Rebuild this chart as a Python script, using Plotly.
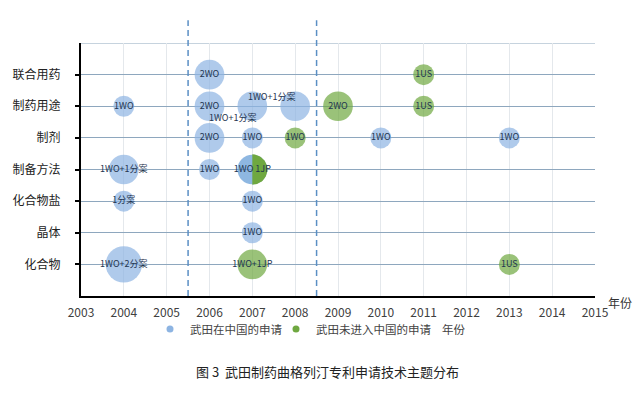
import numpy as np
import plotly.graph_objects as go

# ---------------- data ----------------
categories = ['化合物', '晶体', '化合物盐', '制备方法', '制剂', '制药用途', '联合用药']
years = list(range(2003, 2016))

# 武田在中国的申请
cn_cat = ['联合用药', '制药用途', '制药用途', '制药用途', '制药用途', '制剂', '制剂', '制剂', '制剂',
          '制备方法', '制备方法', '化合物盐', '化合物盐', '晶体', '化合物']
cn_year = [2006, 2004, 2006, 2007, 2008, 2006, 2007, 2010, 2013, 2004, 2006, 2004, 2007, 2007, 2004]
cn_count = [2, 1, 2, 2, 2, 2, 1, 1, 1, 2, 1, 1, 1, 1, 3]
cn_label = ['2WO', '1WO', '2WO', '1WO+1分案', '1WO+1分案', '2WO', '1WO', '1WO', '1WO',
            '1WO+1分案', '1WO', '1分案', '1WO', '1WO', '1WO+2分案']

# 武田未进入中国的申请
nc_cat = ['联合用药', '制药用途', '制药用途', '制剂', '化合物', '化合物']
nc_year = [2011, 2009, 2011, 2008, 2007, 2013]
nc_count = [1, 2, 1, 1, 2, 1]
nc_label = ['1US', '2WO', '1US', '1WO', '1WO+1JP', '1US']

# mixed bubble (half in China / half not)
mix_cat = ['制备方法']
mix_year = [2007]
mix_count_cn = [1]
mix_count_nc = [1]
mix_label = ['1WO 1JP']

period_dividers = [2005.5, 2008.5]

# ---------------- style ----------------
W, H = 640, 399
ML, MR, MT, MB = 81, 45, 43, 103
BLUE = '#8db4e2'
BLUE_DARK = '#5e98d4'
GREEN = '#6fa840'
GRID_H = '#8ea7be'
FONT = 'Noto Sans CJK SC'
BASE_D = 21.0  # px diameter for one application (area proportional to count)
TXT = dict(family=FONT, size=9, color='#1f3550')

# label offsets (px) for crowded bubbles
shifted = {('制药用途', 2007): (-19, -11), ('制药用途', 2008): (-23, 10)}

ypos = {c: i + 1 for i, c in enumerate(categories)}


def diam(counts):
    return [BASE_D * np.sqrt(c) for c in counts]


fig = go.Figure()


def add_bubbles(cats, yrs, counts, labels, color):
    text = ['' if (c, y) in shifted else l for c, y, l in zip(cats, yrs, labels)]
    fig.add_trace(go.Scatter(
        x=yrs, y=[ypos[c] for c in cats], mode='markers+text',
        marker=dict(size=diam(counts), sizemode='diameter', color=color, line=dict(width=0)),
        text=text, textposition='middle center', textfont=TXT,
        showlegend=False, hoverinfo='skip'))
    for c, y, l in zip(cats, yrs, labels):
        if (c, y) in shifted:
            dx, dy = shifted[(c, y)]
            fig.add_annotation(x=y, y=ypos[c], text=l, showarrow=False, xshift=dx, yshift=dy, font=TXT)


add_bubbles(cn_cat, cn_year, cn_count, cn_label, BLUE)
add_bubbles(nc_cat, nc_year, nc_count, nc_label, GREEN)

# mixed bubble: full circle (blue) + green right half
mix_total = [a + b for a, b in zip(mix_count_cn, mix_count_nc)]
fig.add_trace(go.Scatter(
    x=mix_year, y=[ypos[c] for c in mix_cat], mode='markers',
    marker=dict(size=diam(mix_total), sizemode='diameter', color=BLUE_DARK, line=dict(width=0)),
    showlegend=False, hoverinfo='skip'))
px_per_x = (W - ML - MR) / (years[-1] - years[0])
px_per_y = (H - MT - MB) / (len(categories) + 1)
for c, yr, d in zip(mix_cat, mix_year, diam(mix_total)):
    r = d / 2 + 0.3
    t = np.linspace(-np.pi / 2, np.pi / 2, 60)
    fig.add_trace(go.Scatter(
        x=yr + r * np.cos(t) / px_per_x, y=ypos[c] + r * np.sin(t) / px_per_y,
        mode='lines', fill='toself', fillcolor=GREEN, line=dict(width=0),
        showlegend=False, hoverinfo='skip'))
fig.add_trace(go.Scatter(
    x=mix_year, y=[ypos[c] for c in mix_cat], mode='text', text=mix_label,
    textfont=TXT, showlegend=False, hoverinfo='skip'))

# legend entries
fig.add_trace(go.Scatter(x=[None], y=[None], mode='markers', name='武田在中国的申请',
                         marker=dict(size=7, color=BLUE)))
fig.add_trace(go.Scatter(x=[None], y=[None], mode='markers', name='武田未进入中国的申请',
                         marker=dict(size=7, color=GREEN)))
fig.add_trace(go.Scatter(x=[None], y=[None], mode='markers', name='年份',
                         marker=dict(size=7, color='rgba(0,0,0,0)')))

for xv in period_dividers:
    fig.add_shape(type='line', xref='x', yref='paper', x0=xv, x1=xv, y0=0, y1=1.09,
                  line=dict(color='#5b8fc4', width=1.5, dash='6px,4px'), layer='above')

# top grid line
fig.add_shape(type='line', xref='paper', yref='y', x0=0, x1=1,
              y0=len(categories) + 1, y1=len(categories) + 1,
              line=dict(color=GRID_H, width=1), layer='below')

PW, PH = W - ML - MR, H - MT - MB
fig.add_annotation(xref='paper', yref='paper', x=1, y=0, xshift=11, yshift=-6,
                   xanchor='left', yanchor='middle', text='年份', showarrow=False,
                   font=dict(family=FONT, size=12, color='#333'))
fig.add_annotation(xref='paper', yref='paper', x=(327 - ML) / PW, y=-(371 - (H - MB)) / PH,
                   xanchor='center', yanchor='middle', text='图 3  武田制药曲格列汀专利申请技术主题分布',
                   showarrow=False, font=dict(family=FONT, size=13, color='#222'))

fig.update_layout(
    width=W, height=H,
    margin=dict(l=ML, r=MR, t=MT, b=MB),
    paper_bgcolor='white', plot_bgcolor='white',
    font=dict(family=FONT),
    xaxis=dict(range=[years[0], years[-1]], tickvals=years, ticktext=[str(y) for y in years],
               showgrid=True, gridcolor='#e4e8ec', gridwidth=1, zeroline=False,
               showline=True, linecolor='black', linewidth=2, ticks='', ticklabelstandoff=5,
               tickfont=dict(family=FONT, size=12, color='#404040')),
    yaxis=dict(range=[0, len(categories) + 1], tickvals=[ypos[c] for c in categories], ticktext=categories,
               showgrid=True, gridcolor=GRID_H, gridwidth=1, zeroline=False,
               showline=True, linecolor='black', linewidth=2, ticks='outside', ticklen=4,
               tickwidth=2, tickcolor='black', ticklabelstandoff=12,
               tickfont=dict(family=FONT, size=12, color='#222')),
    legend=dict(orientation='h', x=(150 - ML) / PW, xanchor='left',
                y=-(329 - (H - MB)) / PH, yanchor='middle',
                entrywidth=81, entrywidthmode='pixels',
                font=dict(family=FONT, size=11.5, color='#444'), bgcolor='rgba(0,0,0,0)'),
)

fig.write_html('out.html', config={'displayModeBar': False},
               post_script="document.body.style.margin='0px';")
